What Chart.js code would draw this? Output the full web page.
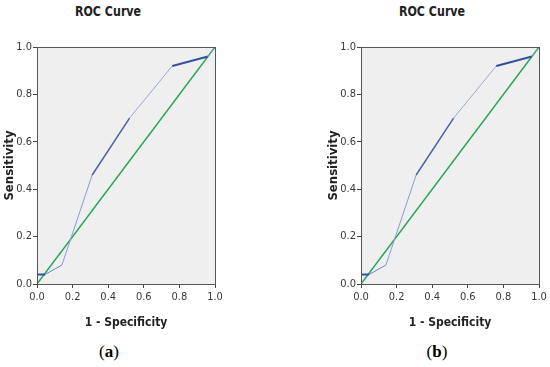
<!DOCTYPE html>
<html>
<head>
<meta charset="utf-8">
<script src="https://cdn.jsdelivr.net/npm/chart.js@4"></script>
<style>
  html, body { margin: 0; padding: 0; background: #fff; width: 550px; height: 367px; overflow: hidden; }
  .panel { position: absolute; top: 0; }
  .panel canvas { position: absolute; left: 0; top: 0; }
  .title { position: absolute; top: 3px; width: 120px; margin-left: -60px; text-align: center;
    font: bold 14px "DejaVu Sans Condensed", Arial, sans-serif; color: #222; transform: scaleX(0.88); }
  .caption { position: absolute; top: 342px; width: 60px; margin-left: -30px; text-align: center;
    font: 17px "Liberation Serif", "Times New Roman", serif; color: #000; }
  .caption b { font-weight: bold; }
</style>
</head>
<body>
<div class="panel" id="panelA" style="left:0px; width:275px; height:367px;">
  <div class="title" style="left:108px;">ROC Curve</div>
  <canvas id="chartA" width="275" height="340"></canvas>
  <div class="caption" style="left:109px;">(<b>a</b>)</div>
</div>
<div class="panel" id="panelB" style="left:324px; width:226px; height:367px;">
  <div class="title" style="left:108px;">ROC Curve</div>
  <canvas id="chartB" width="226" height="340"></canvas>
  <div class="caption" style="left:113px;">(<b>b</b>)</div>
</div>
<script>
// ROC points (1 - specificity, sensitivity)
const rocX = [0, 0, 0.045, 0.14, 0.31, 0.52, 0.76, 0.96, 1]
const rocY = [0, 0.04, 0.04, 0.08, 0.46, 0.70, 0.92, 0.96, 1]
const refX = [0, 1]
const refY = [0, 1]
const tickValues = [0, 0.2, 0.4, 0.6, 0.8, 1.0]

// stroke look per ROC segment (the original mixes dark/thick and light/thin pieces)
const segWidth = [1, 2, 1, 1, 1.5, 1, 2, 1]
const segColor = ["#8c9bd2", "#34509f", "#6f82c4", "#8c9bd2", "#4862ad", "#9aa7d8", "#34509f", "#6f9ac0"]

const narrow = "'DejaVu Sans Condensed', Arial, sans-serif"

const frame = {
  id: "frame",
  beforeDatasetsDraw(chart) {
    const a = chart.chartArea
    const ctx = chart.ctx
    ctx.save()
    ctx.fillStyle = "#efefef"
    ctx.fillRect(a.left, a.top, a.right - a.left, a.bottom - a.top)
    ctx.restore()
  },
  afterDatasetsDraw(chart) {
    const a = chart.chartArea
    const ctx = chart.ctx
    ctx.save()
    ctx.strokeStyle = "#555"
    ctx.lineWidth = 1
    ctx.strokeRect(Math.round(a.left) + 0.5, Math.round(a.top) + 0.5, Math.round(a.right - a.left), Math.round(a.bottom - a.top))
    ctx.restore()
  },
}

function makeChart(id, padRight) {
  const ctx = document.getElementById(id).getContext("2d")
  return new Chart(ctx, {
    type: "scatter",
    data: {
      datasets: [
        {
          data: rocX.map((x, i) => ({ x: x, y: rocY[i] })),
          showLine: true,
          pointRadius: 0,
          borderColor: "#3a55a4",
          borderWidth: 1,
          segment: {
            borderColor: (c) => segColor[c.p0DataIndex],
            borderWidth: (c) => segWidth[c.p0DataIndex],
          },
        },
        {
          data: refX.map((x, i) => ({ x: x, y: refY[i] })),
          showLine: true,
          pointRadius: 0,
          borderColor: "#22a85a",
          borderWidth: 1.5,
        },
      ],
    },
    options: {
      responsive: false,
      animation: false,
      layout: { padding: { top: 47, left: 0, right: padRight, bottom: 0 } },
      plugins: { legend: { display: false }, tooltip: { enabled: false } },
      scales: {
        x: {
          type: "linear",
          min: 0,
          max: 1,
          afterBuildTicks: (s) => { s.ticks = tickValues.map((v) => ({ value: v })) },
          afterFit: (s) => { s.height = 56 },
          grid: { drawOnChartArea: false, drawTicks: true, tickLength: 4, color: "#444" },
          border: { display: true, color: "#555" },
          ticks: {
            color: "#383838",
            padding: 3,
            font: { family: narrow, size: 11 },
            callback: (v) => Number(v).toFixed(1),
          },
          title: {
            display: true,
            text: "1 - Specificity",
            color: "#222",
            font: { family: narrow, size: 12, weight: "bold" },
            padding: { top: 4, bottom: 10 },
          },
        },
        y: {
          type: "linear",
          min: 0,
          max: 1,
          afterBuildTicks: (s) => { s.ticks = tickValues.map((v) => ({ value: v })) },
          afterFit: (s) => { s.width = 37 },
          grid: { drawOnChartArea: false, drawTicks: true, tickLength: 4, color: "#444" },
          border: { display: true, color: "#555" },
          ticks: {
            color: "#383838",
            padding: 1,
            font: { family: narrow, size: 11 },
            callback: (v) => Number(v).toFixed(1),
          },
          title: {
            display: true,
            text: "Sensitivity",
            color: "#222",
            font: { family: narrow, size: 13, weight: "bold" },
            padding: { top: 2, bottom: 0 },
          },
        },
      },
    },
    plugins: [frame],
  })
}

makeChart("chartA", 60)
makeChart("chartB", 11)
</script>
</body>
</html>
